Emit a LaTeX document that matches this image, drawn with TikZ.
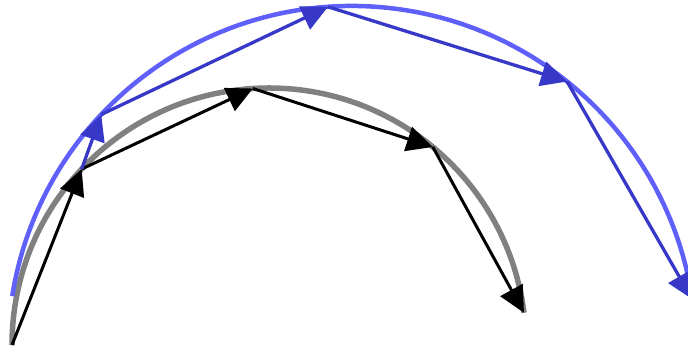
\documentclass[tikz,border=0pt]{standalone}
\usetikzlibrary{arrows.meta}
\definecolor{arcblue}{RGB}{95,95,250}
\definecolor{stepblue}{RGB}{55,55,200}
\begin{document}
\begin{tikzpicture}
        [x=1pt, y=1pt,
        exact/.style={gray, line width=5.5pt},
        approx/.style={arcblue, line width=4.5pt},
        kstep/.style={black, line width=3pt, -{Triangle[length=26pt, width=25pt]}},
        bstep/.style={stepblue, line width=3.3pt, -{Triangle[length=26pt, width=25pt]}}]

        \useasboundingbox (0,0) rectangle (688,352);
        \clip (0,0) rectangle (688,352);

        % centres of the two circles
        \coordinate (gc) at (269,7);
        \coordinate (bc) at (352,2);

        % points on the inner circle
        \coordinate (k0) at ([shift={(180:257)}]gc);
        \coordinate (k1) at ([shift={(136.8:257)}]gc);
        \coordinate (k2) at ([shift={(93.6:257)}]gc);
        \coordinate (k3) at ([shift={(50.4:257)}]gc);
        \coordinate (k4) at ([shift={(7.2:257)}]gc);

        % points on the outer circle
        \coordinate (b1) at ([shift={(136.8:344)}]bc);
        \coordinate (b2) at ([shift={(94:344)}]bc);
        \coordinate (b3) at ([shift={(51.3:344)}]bc);
        \coordinate (b4) at ([shift={(8.5:344)}]bc);

        % the arcs
        \draw[exact] (k0) arc[start angle=180, end angle=7.2, radius=257];
        \draw[approx] ([shift={(171:344)}]bc) arc[start angle=171, end angle=0, radius=344];

        % black steps
        \draw[kstep] (k0) -- (k1);
        \draw[kstep] (k1) -- (k2);
        \draw[kstep] (k2) -- (k3);
        \draw[kstep] (k3) -- (k4);

        % blue steps
        \draw[bstep] (k1) -- (b1);
        \draw[bstep] (b1) -- (b2);
        \draw[bstep] (b2) -- (b3);
        \draw[bstep] (b3) -- (b4);

        \end{tikzpicture}
\end{document}
